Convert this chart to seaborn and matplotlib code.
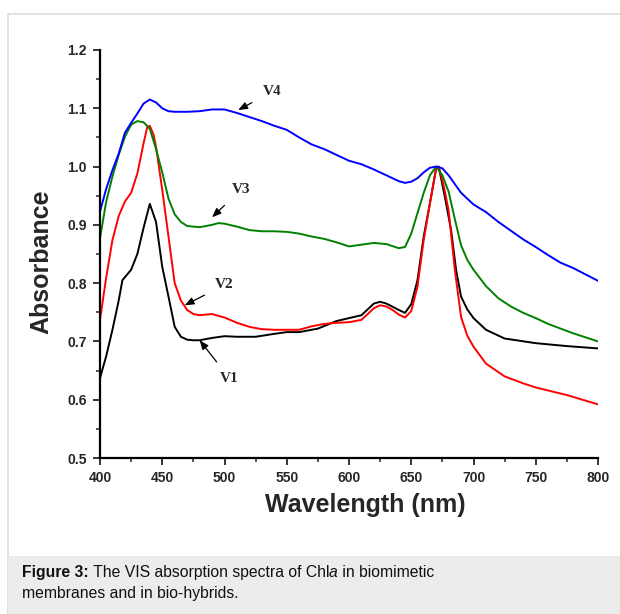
import pandas as pd
import seaborn as sns
import matplotlib.pyplot as plt
from matplotlib.patches import Rectangle
from matplotlib.ticker import MultipleLocator

# V4 (синяя)
wl_v4 = [400, 405, 410, 415, 420, 425, 430, 435, 440, 445, 450, 455, 460, 470, 480, 490, 500,
         510, 520, 530, 540, 550, 560, 570, 580, 590, 600, 610, 620, 630, 640, 645, 650, 655,
         660, 665, 670, 675, 680, 685, 690, 700, 710, 720, 730, 740, 750, 760, 770, 780, 790, 800]
abs_v4 = [0.923, 0.962, 0.994, 1.022, 1.058, 1.075, 1.091, 1.108, 1.115, 1.110, 1.100, 1.095,
          1.094, 1.094, 1.095, 1.098, 1.098, 1.092, 1.085, 1.078, 1.070, 1.063, 1.050, 1.038,
          1.030, 1.020, 1.010, 1.004, 0.995, 0.985, 0.975, 0.972, 0.974, 0.980, 0.990, 0.998,
          1.000, 0.997, 0.985, 0.970, 0.955, 0.935, 0.922, 0.905, 0.890, 0.875, 0.862, 0.848,
          0.835, 0.826, 0.815, 0.804]

# V3 (зелёная)
wl_v3 = [400, 405, 410, 415, 420, 425, 430, 435, 440, 445, 450, 455, 460, 465, 470, 480, 490,
         495, 500, 510, 520, 530, 540, 550, 560, 570, 580, 590, 600, 610, 620, 630, 640, 645,
         650, 655, 660, 665, 670, 675, 680, 685, 690, 695, 700, 710, 720, 730, 740, 750, 760,
         770, 780, 790, 800]
abs_v3 = [0.877, 0.940, 0.983, 1.020, 1.051, 1.072, 1.078, 1.076, 1.065, 1.030, 0.990, 0.945,
          0.918, 0.905, 0.898, 0.896, 0.900, 0.903, 0.902, 0.897, 0.891, 0.889, 0.889, 0.888,
          0.885, 0.880, 0.876, 0.870, 0.863, 0.866, 0.869, 0.867, 0.860, 0.862, 0.885, 0.920,
          0.955, 0.985, 1.000, 0.985, 0.957, 0.910, 0.865, 0.840, 0.823, 0.795, 0.774, 0.760,
          0.749, 0.740, 0.730, 0.722, 0.714, 0.707, 0.700]

# V2 (красная)
wl_v2 = [400, 405, 410, 415, 420, 425, 430, 435, 438, 440, 443, 445, 450, 455, 460, 465, 470,
         475, 480, 490, 500, 510, 520, 530, 540, 550, 560, 570, 580, 590, 600, 610, 620, 625,
         630, 635, 640, 645, 650, 655, 660, 665, 670, 672, 676, 680, 685, 690, 695, 700, 710,
         725, 740, 750, 775, 800]
abs_v2 = [0.737, 0.810, 0.874, 0.915, 0.940, 0.955, 0.988, 1.040, 1.068, 1.070, 1.055, 1.034,
          0.960, 0.880, 0.800, 0.770, 0.754, 0.747, 0.745, 0.747, 0.741, 0.732, 0.725, 0.721,
          0.720, 0.720, 0.720, 0.726, 0.730, 0.732, 0.733, 0.737, 0.757, 0.762, 0.760, 0.754,
          0.746, 0.741, 0.752, 0.794, 0.874, 0.937, 0.997, 1.000, 0.968, 0.925, 0.823, 0.742,
          0.710, 0.691, 0.662, 0.640, 0.628, 0.621, 0.608, 0.592]

# V1 (чёрная)
wl_v1 = [400, 405, 410, 415, 418, 425, 430, 435, 440, 445, 450, 455, 460, 465, 470, 475, 480,
         490, 500, 510, 525, 540, 550, 560, 575, 590, 600, 610, 620, 625, 630, 640, 645, 650,
         655, 660, 665, 670, 672, 677, 682, 686, 690, 695, 700, 710, 725, 750, 775, 800]
abs_v1 = [0.637, 0.675, 0.720, 0.770, 0.805, 0.823, 0.850, 0.895, 0.936, 0.905, 0.828, 0.777,
          0.725, 0.708, 0.703, 0.702, 0.702, 0.706, 0.709, 0.708, 0.708, 0.713, 0.716, 0.716,
          0.722, 0.735, 0.740, 0.745, 0.765, 0.768, 0.765, 0.754, 0.749, 0.764, 0.805, 0.880,
          0.937, 0.997, 1.000, 0.948, 0.891, 0.823, 0.777, 0.755, 0.740, 0.720, 0.705, 0.697,
          0.692, 0.688]

series = [('V1', wl_v1, abs_v1, 'black'),
          ('V2', wl_v2, abs_v2, '#ff0000'),
          ('V3', wl_v3, abs_v3, '#008000'),
          ('V4', wl_v4, abs_v4, '#0000ff')]

sns.set_style('ticks')
plt.rcParams['font.family'] = ['Liberation Sans', 'DejaVu Sans']

fig = plt.figure(figsize=(6.2, 6.14), dpi=100)
fig.patch.set_facecolor('white')

# рамка и подпись
fig.patches.append(Rectangle((8 / 620, 0), 1, 1 - 14 / 614, transform=fig.transFigure,
                             facecolor='white', edgecolor='#dddddd', lw=1.2, zorder=0))
fig.patches.append(Rectangle((8 / 620, 0), 1, 58 / 614, transform=fig.transFigure,
                             facecolor='#ececec', edgecolor='none', zorder=1))
cap = dict(fontsize=11.3, color='#111111', zorder=3)
t = fig.text(22 / 620, 1 - 580 / 614, "Figure 3:", fontweight='bold', va='bottom', **cap)
t = fig.text(0, 0, " The VIS absorption spectra of Chl", va='bottom',
             transform=t.get_transform(), **cap)
# кусочки подписи ставим друг за другом
fig.texts.pop()
parts = [(" The VIS absorption spectra of Chl", 'normal'), ("a", 'italic'),
         (" in biomimetic", 'normal')]
prev = fig.texts[-1]
for s, st in parts:
    prev = fig.add_artist(plt.Annotation(s, xy=(1, 0), xycoords=prev, va='bottom',
                                         ha='left', fontstyle=st, **cap))
fig.text(22 / 620, 1 - 601 / 614, "membranes and in bio-hybrids.", va='bottom', **cap)

ax = fig.add_axes([100 / 620, 1 - 458 / 614, 498 / 620, 408 / 614])
ax.set_zorder(2)
ax.set_facecolor('none')

for name, wl, ab, col in series:
    d = pd.DataFrame({'wl': wl, 'abs': ab})
    sns.lineplot(data=d, x='wl', y='abs', color=col, lw=1.4, ax=ax, sort=False)

ax.set_xlim(400, 800)
ax.set_ylim(0.5, 1.2)
ax.xaxis.set_major_locator(MultipleLocator(50))
ax.xaxis.set_minor_locator(MultipleLocator(25))
ax.yaxis.set_major_locator(MultipleLocator(0.1))
ax.yaxis.set_minor_locator(MultipleLocator(0.05))
ax.set_yticks(ax.get_yticks())
ax.set_yticklabels([f'{v:.1f}' for v in ax.get_yticks()])
ax.set_ylim(0.5, 1.2)
ax.tick_params(which='major', direction='out', length=5, width=1.3, labelsize=10, pad=4.5)
ax.tick_params(which='minor', direction='out', length=3, width=1.1)
for lab in ax.get_xticklabels() + ax.get_yticklabels():
    lab.set_fontweight('bold')
for s in ['top', 'right']:
    ax.spines[s].set_visible(False)
for s in ['left', 'bottom']:
    ax.spines[s].set_linewidth(1.6)
    ax.spines[s].set_color('black')

ax.set_xlabel('Wavelength (nm)', fontsize=18, fontweight='bold')
ax.set_ylabel('Absorbance', fontsize=18, fontweight='bold')
ax.xaxis.set_label_coords(0.532, -0.085)
ax.yaxis.set_label_coords(-0.094, 0.48)

# подписи кривых
labels = {'V4': ((538, 1.128), (511, 1.097)),
          'V3': ((513, 0.960), (490, 0.913)),
          'V2': ((500, 0.797), (468, 0.762)),
          'V1': ((504, 0.637), (480, 0.702))}
for name, (txt, tip) in labels.items():
    ax.annotate(name, xy=tip, xytext=txt, ha='center', va='center',
                fontsize=11, fontweight='bold', family='Liberation Serif',
                arrowprops=dict(arrowstyle='-|>,head_length=0.5,head_width=0.2',
                                color='black', lw=0.9, shrinkA=6, shrinkB=0))

fig.savefig('out.png', dpi=100, facecolor='white')
